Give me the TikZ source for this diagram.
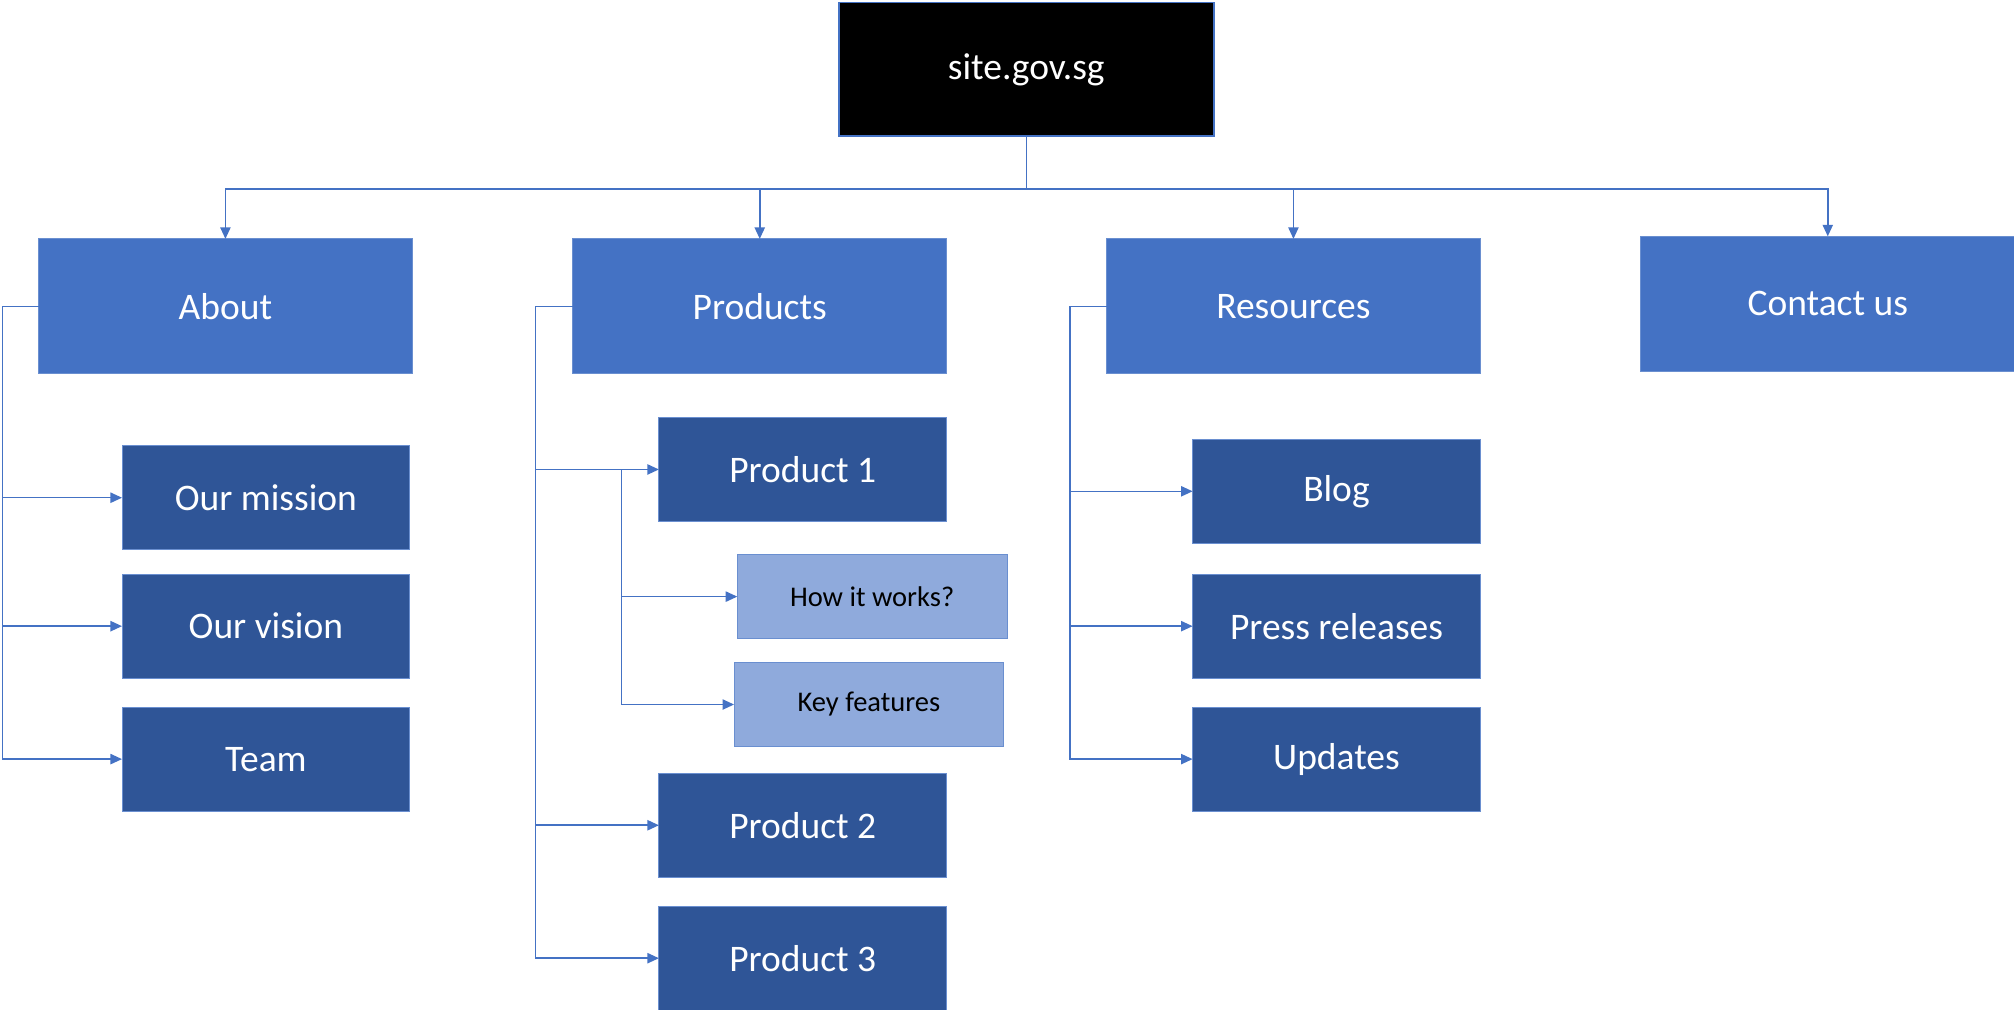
\documentclass[tikz,border=0pt]{standalone}
\usepackage{fontspec}
\setmainfont{Carlito}
\usetikzlibrary{arrows.meta}
\definecolor{midblue}{HTML}{4472C4}
\definecolor{darkblue}{HTML}{2F5597}
\definecolor{lightblue}{HTML}{8FAADC}
\definecolor{edgeblue}{HTML}{6A8FD0}
\tikzset{
  base/.style={rectangle, inner sep=0pt, outer sep=0pt, draw=edgeblue, line width=0.4pt},
  rootbox/.style={base, fill=black, draw=midblue, line width=0.7pt, text=white, minimum width=146pt, minimum height=52pt, font=\fontsize{14.6}{17}\selectfont},
  topbox/.style={base, fill=midblue, text=white, minimum width=145.5pt, minimum height=52.5pt, font=\fontsize{14.6}{17}\selectfont},
  subbox/.style={base, fill=darkblue, text=white, minimum width=112pt, minimum height=40.5pt, font=\fontsize{14.6}{17}\selectfont},
  leafbox/.style={base, fill=lightblue, text=black, minimum width=105pt, minimum height=32.5pt, font=\fontsize{11.1}{13}\selectfont},
  conn/.style={draw=midblue, line width=0.6pt},
  arr/.style={conn, -{Triangle[length=4.5pt,width=4pt]}}
}
\begin{document}
\begin{tikzpicture}[x=0.5pt,y=-0.5pt]
\useasboundingbox (0,0) rectangle (1568,786);
% nodes
\node[rootbox] (root) at (799,54) {site.gov.sg};
\node[topbox] (about) at (175.5,238.5) {About};
\node[topbox] (products) at (591.5,238.5) {Products};
\node[topbox] (resources) at (1007,238.5) {Resources};
\node[topbox] (contact) at (1423,236.5) {Contact us};
\node[subbox] (mission) at (207,387.5) {Our mission};
\node[subbox] (vision) at (207,487.5) {Our vision};
\node[subbox] (team) at (207,591) {Team};
\node[subbox] (p1) at (625,365.5) {Product 1};
\node[leafbox] (how) at (679,464.5) {How it works?};
\node[leafbox] (key) at (676.5,548.5) {Key features};
\node[subbox] (p2) at (625,642.5) {Product 2};
\node[subbox] (p3) at (625,746) {Product 3};
\node[subbox] (blog) at (1040.5,382.5) {Blog};
\node[subbox] (press) at (1040.5,487.5) {Press releases};
\node[subbox] (updates) at (1040.5,591) {Updates};
% junctions
\coordinate (bus) at (799,147);
\coordinate (aL) at (2,238.5);
\coordinate (pL) at (417,238.5);
\coordinate (p1j) at (484,365.5);
\coordinate (rL) at (833,238.5);
% connectors from root
\draw[conn] (root.south) -- (bus);
\draw[arr] (bus) -| (about.north);
\draw[arr] (bus) -| (products.north);
\draw[arr] (bus) -| (resources.north);
\draw[arr] (bus) -| (contact.north);
% About
\draw[arr] (about.west) -- (aL) |- (mission.west);
\draw[arr] (aL) |- (vision.west);
\draw[arr] (aL) |- (team.west);
% Products
\draw[arr] (products.west) -- (pL) |- (p1.west);
\draw[arr] (pL) |- (p2.west);
\draw[arr] (pL) |- (p3.west);
\draw[arr] (p1j) |- (how.west);
\draw[arr] (p1j) |- (key.west);
% Resources
\draw[arr] (resources.west) -- (rL) |- (blog.west);
\draw[arr] (rL) |- (press.west);
\draw[arr] (rL) |- (updates.west);
\end{tikzpicture}
\end{document}
